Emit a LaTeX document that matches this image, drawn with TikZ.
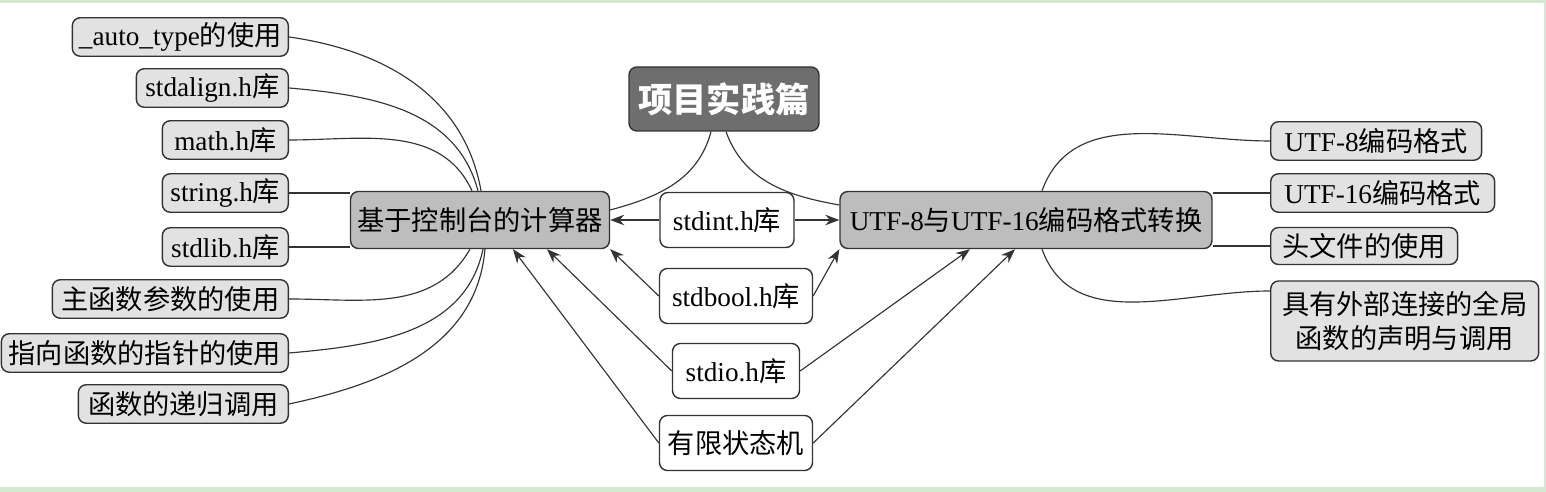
\documentclass[tikz,border=0pt]{standalone}
\usepackage{fontspec}
\setmainfont{Liberation Serif}
\newfontfamily\cjk{Noto Sans CJK SC}
\newcommand\zh[1]{{\cjk #1}}
\usepackage{tikz}
\usetikzlibrary{arrows.meta,calc}

\definecolor{framegreen}{HTML}{D4E8D2}
\definecolor{leafgray}{HTML}{E2E2E2}
\definecolor{hubgray}{HTML}{BDBDBD}
\definecolor{projgray}{HTML}{6E6E6E}

\tikzset{
	box/.style={draw=black!80,line width=0.8pt,rounded corners=4.5pt,inner sep=1pt,
		font=\fontsize{15.5}{19}\selectfont},
	leaf/.style={box,fill=leafgray,minimum height=0.77cm},
	hub/.style={box,fill=hubgray,minimum height=1.14cm},
	lib/.style={box,fill=white,minimum height=1.1cm},
	link/.style={draw=black!80,line width=0.65pt},
	arr/.style={link,-{Stealth[length=8pt,width=6pt]}}
}

\begin{document}
\begin{tikzpicture}[x=0.02cm,y=0.02cm]
		\useasboundingbox (0,0) rectangle (1546,492);
		\fill[framegreen] (0,0) rectangle (1546,492);
		\fill[white] (0,5) rectangle (1544,489);

		\node[hub,minimum width=5.18cm] (calc) at (480,272) {\zh{基于控制台的计算器}};
		\node[hub,minimum width=7.44cm] (utf) at (1026,272) {UTF-8\zh{与}UTF-16\zh{编码格式转换}};
		\node[box,fill=projgray,text=white,minimum width=3.8cm,minimum height=1.28cm,
			font=\fontsize{19.5}{22}\selectfont] (proj) at (724,393) {\cjk\bfseries 项目实践篇};

		\node[leaf,anchor=east,minimum width=4.32cm] (autotype) at (289,455) {\_auto\_type\zh{的使用}};
		\node[leaf,anchor=east,minimum width=3.04cm] (stdalign) at (289,404) {stdalign.h\zh{库}};
		\node[leaf,anchor=east,minimum width=2.52cm] (mathh) at (289,352) {math.h\zh{库}};
		\node[leaf,anchor=east,minimum width=2.52cm] (stringh) at (289,299) {string.h\zh{库}};
		\node[leaf,anchor=east,minimum width=2.52cm] (stdlibh) at (289,245) {stdlib.h\zh{库}};
		\node[leaf,anchor=east,minimum width=4.72cm] (mainarg) at (289,193) {\zh{主函数参数的使用}};
		\node[leaf,anchor=east,minimum width=5.74cm] (funcptr) at (289,139) {\zh{指向函数的指针的使用}};
		\node[leaf,anchor=east,minimum width=4.2cm] (recur) at (289,88) {\zh{函数的递归调用}};

		\node[lib,minimum width=2.68cm] (stdint) at (727,272) {stdint.h\zh{库}};
		\node[lib,minimum width=3.06cm] (stdbool) at (736,196) {stdbool.h\zh{库}};
		\node[lib,minimum width=2.54cm] (stdio) at (736,121) {stdio.h\zh{库}};
		\node[lib,minimum width=3.06cm] (fsm) at (736,49) {\zh{有限状态机}};

		\node[leaf,anchor=west,minimum width=4.22cm] (utfeight) at (1270,351) {UTF-8\zh{编码格式}};
		\node[leaf,anchor=west,minimum width=4.48cm] (utfsixteen) at (1270,299) {UTF-16\zh{编码格式}};
		\node[leaf,anchor=west,minimum width=3.74cm,minimum height=0.74cm] (header) at (1270,246) {\zh{头文件的使用}};
		\node[leaf,anchor=west,minimum width=5.36cm,minimum height=1.6cm,align=center] (extern) at (1270,171)
			{\zh{具有外部连接的全局}\\\zh{函数的声明与调用}};

		\draw[link] (autotype.east) to[out=-8,in=100] ($(calc.north)+(1,0)$);
		\draw[link] (stdalign.east) to[out=-5,in=105] ($(calc.north)+(-2,0)$);
		\draw[link] (mathh.east) to[out=0,in=115] ($(calc.north)+(-8,0)$);
		\draw[link] (stringh.east) -- (stringh.east -| calc.west);
		\draw[link] (stdlibh.east) -- (stdlibh.east -| calc.west);
		\draw[link] (mainarg.east) to[out=0,in=-120] ($(calc.south)+(-10,0)$);
		\draw[link] (funcptr.east) to[out=5,in=-102] ($(calc.south)+(3,0)$);
		\draw[link] (recur.east) to[out=12,in=-95] ($(calc.south)+(5,0)$);

		\draw[link] ($(proj.south)+(-13,0)$) to[out=-105,in=15] ($(calc.east)+(0,10)$);
		\draw[link] ($(proj.south)+(2,0)$) to[out=-70,in=170] ($(utf.west)+(0,15)$);

		\draw[arr] (stdint) -- (calc);
		\draw[arr] (stdint) -- (utf);
		\draw[arr] (stdbool.west) -- (calc.south east);
		\draw[arr] (stdbool.east) -- (utf.south west);
		\draw[arr] (stdio.west) -- ($(calc.south)+(67,0)$);
		\draw[arr] (stdio.east) -- ($(utf.south)+(-56,0)$);
		\draw[arr] (fsm.west) -- ($(calc.south)+(33,0)$);
		\draw[arr] (fsm.east) -- ($(utf.south)+(-11,0)$);

		\draw[link] ($(utf.north)+(16,0)$) to[out=70,in=180] (utfeight.west);
		\draw[link] (utfsixteen.west) -- (utfsixteen.west -| utf.east);
		\draw[link] (header.west) -- (header.west -| utf.east);
		\draw[link] ($(utf.south)+(16,0)$) to[out=-70,in=180] ($(extern.west)+(0,30)$);
\end{tikzpicture}
\end{document}
